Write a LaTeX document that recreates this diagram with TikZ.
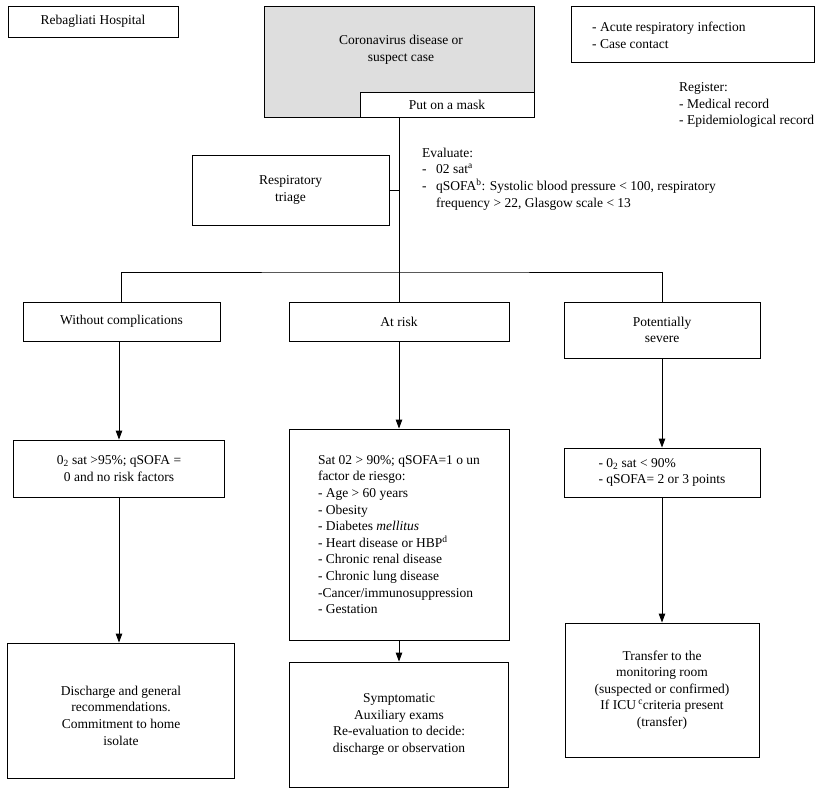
\documentclass[tikz,border=0pt]{standalone}
\usepackage{fontspec}
\setmainfont{Liberation Serif}
\usetikzlibrary{arrows.meta}
\definecolor{covgray}{HTML}{DEDEDE}
\begin{document}
\begin{tikzpicture}[x=1pt,y=-1pt,
  every node/.style={font=\fontsize{13.5}{16.6}\selectfont},
  box/.style={draw, line width=0.9pt, fill=white, inner sep=0pt, align=center},
  txt/.style={inner sep=0pt, align=left, anchor=west},
  conn/.style={line width=0.9pt},
  arr/.style={conn, -{Triangle[length=9pt,width=6.5pt]}}
]
\useasboundingbox[fill=white] (0,0) rectangle (825,792);

\node[box, minimum width=170pt, minimum height=31pt] (reb) at (93,21.5) {Rebagliati Hospital};
\node[box, fill=covgray, minimum width=270pt, minimum height=111pt] (cov) at (399,61.5) {};
\node[inner sep=0pt, align=center] (covtxt) at (401,50) {Coronavirus disease or\\suspect case};
\node[box, minimum width=174pt, minimum height=25pt] (mask) at (447,104.5) {Put on a mask};

\node[box, minimum width=243pt, minimum height=56pt] (inf) at (692.5,34) {};
\node[txt] (inftxt) at (592,35.5) {- Acute respiratory infection\\- Case contact};
\node[txt] (reg) at (679,105) {Register:\\- Medical record\\- Epidemiological record};

\node[box, minimum width=197pt, minimum height=70pt] (triage) at (290.5,190) {Respiratory\\triage};
\node[txt] (eval) at (422,179) {Evaluate:\\\makebox[14pt][l]{-}02 sat\textsuperscript{a}\\\makebox[14pt][l]{-}qSOFA\textsuperscript{b}: Systolic blood pressure < 100, respiratory\\\hspace*{14pt}frequency > 22, Glasgow scale < 13};

\node[box, minimum width=197pt, minimum height=39pt] (without) at (121.5,321.5) {Without complications};
\node[box, minimum width=220pt, minimum height=39pt] (atrisk) at (399,321.5) {At risk};
\node[box, minimum width=196pt, minimum height=56pt] (pot) at (662,330) {Potentially\\severe};

\node[box, minimum width=211pt, minimum height=57pt] (c1) at (119,468.5) {0\textsubscript{2} sat >95\%; qSOFA =\\0 and no risk factors};
\node[box, align=left, minimum width=220pt, minimum height=211pt] (c2) at (399,534.5) {Sat 02 > 90\%; qSOFA=1 o un\\factor de riesgo:\\- Age > 60 years\\- Obesity\\- Diabetes \textit{mellitus}\\- Heart disease or HBP\textsuperscript{d}\\- Chronic renal disease\\- Chronic lung disease\\-Cancer/immunosuppression\\- Gestation};
\node[box, align=left, minimum width=196pt, minimum height=49pt] (c3) at (662,472.5) {- 0\textsubscript{2} sat < 90\%\\- qSOFA= 2 or 3 points};

\node[box, minimum width=227pt, minimum height=135pt] (d1) at (121,710.5) {};
\node[inner sep=0pt, align=center] (d1txt) at (121,715.5) {Discharge and general\\recommendations.\\Commitment to home\\isolate};
\node[box, minimum width=219pt, minimum height=125pt] (d2) at (399,724.5) {Symptomatic\\Auxiliary exams\\Re-evaluation to decide:\\discharge or observation};
\node[box, minimum width=194pt, minimum height=134pt] (d3) at (662,690) {Transfer to the\\monitoring room\\(suspected or confirmed)\\If ICU\,\textsuperscript{c}criteria present\\(transfer)};

\coordinate (split) at (399,272);
\draw[conn] (mask.south -| atrisk.north) -- (atrisk.north);
\draw[conn] (triage.east) -- (triage.east -| atrisk.north);
\draw[conn] (without.north) |- (split) -| (pot.north);
\draw[arr] (without.south -| c1.north) -- (c1.north);
\draw[arr] (atrisk.south) -- (c2.north);
\draw[arr] (pot.south) -- (c3.north);
\draw[arr] (c1.south) -- (c1.south |- d1.north);
\draw[arr] (c2.south) -- (d2.north);
\draw[arr] (c3.south) -- (d3.north);
\end{tikzpicture}
\end{document}
